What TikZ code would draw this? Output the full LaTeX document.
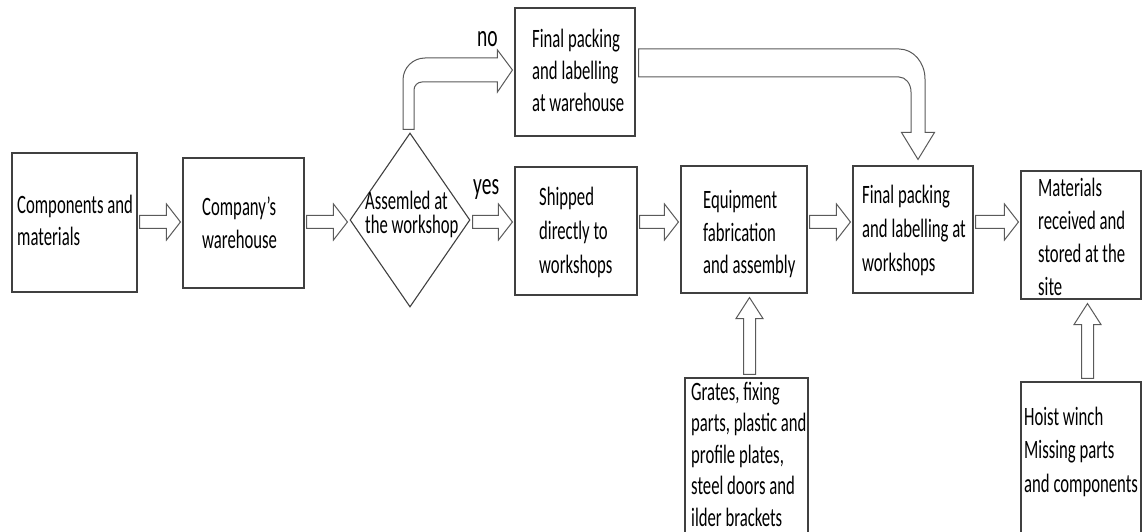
\documentclass[tikz,border=0pt]{standalone}
\usepackage{fontspec}
\setmainfont{Carlito}[FakeStretch=0.63]
\usetikzlibrary{shapes.geometric,calc}

\definecolor{edge}{RGB}{64,64,64}
\definecolor{arrowedge}{RGB}{90,90,90}

\tikzset{
  box/.style={draw=edge, line width=1.1pt, rectangle, inner sep=0pt},
  decision/.style={draw=edge, line width=1.1pt, diamond, inner sep=0pt},
  blockarrow/.style={draw=arrowedge, line width=1pt, fill=white, line join=miter},
  txt/.style={inner sep=0pt, anchor=base west, text width=150pt, align=flush left,
    font={\fontsize{26.5pt}{#1}\selectfont}},
  tag/.style={inner sep=0pt, anchor=base west, font={\fontsize{31pt}{36pt}\selectfont}},
}

% hollow arrow from #1 to #2, drawn along height #3
\newcommand\flowarrow[3]{%
  \draw[blockarrow] let \p1=(#1.east), \p2=(#2.west) in
    (\x1+2pt,#3pt+6.5pt) -- (\x2-16pt,#3pt+6.5pt) -- (\x2-16pt,#3pt+18pt) -- (\x2-2pt,#3pt)
    -- (\x2-16pt,#3pt-18pt) -- (\x2-16pt,#3pt-6.5pt) -- (\x1+2pt,#3pt-6.5pt) -- cycle;}

% hollow arrow pointing up from #1 into #2, at abscissa #3
\newcommand\feedarrow[3]{%
  \draw[blockarrow] let \p1=(#1.north), \p2=(#2.south) in
    (#3pt-6pt,\y1+3pt) -- (#3pt-6pt,\y2-25pt) -- (#3pt-13.5pt,\y2-25pt) -- (#3pt,\y2-4pt)
    -- (#3pt+13.5pt,\y2-25pt) -- (#3pt+6pt,\y2-25pt) -- (#3pt+6pt,\y1+3pt) -- cycle;}

\begin{document}
\begin{tikzpicture}[x=1pt,y=1pt]
\useasboundingbox (0,0) rectangle (1144,531);
\clip (0,0) rectangle (1144,531);

% process boxes
\node[box, minimum width=125pt, minimum height=139pt] (comp)  at (74.5,308.5) {};
\node[box, minimum width=121pt, minimum height=130pt] (wh)    at (243.5,308) {};
\node[decision, minimum width=120pt, minimum height=174pt] (dec) at (410,311) {};
\node[box, minimum width=120pt, minimum height=128pt] (packw) at (575,459) {};
\node[box, minimum width=122pt, minimum height=128pt] (ship)  at (576,300) {};
\node[box, minimum width=126pt, minimum height=127pt] (fab)   at (744,301.5) {};
\node[box, minimum width=120pt, minimum height=127pt] (packs) at (913,301.5) {};
\node[box, minimum width=120pt, minimum height=128pt] (site)  at (1081,296) {};
\node[box, minimum width=123pt, minimum height=163pt] (parts) at (746.5,71.5) {};
\node[box, minimum width=120pt, minimum height=159pt] (hoist) at (1081,69.5) {};

% box texts (placed at the baseline of their first line)
\node[txt=32pt]   (tcomp)  at (17,317)   {Components and\\materials};
\node[txt=33pt]   (twh)    at (202,315)  {Company’s\\warehouse};
\node[txt=24pt]   (tdec)   at (365,321)  {Assemled at\\the workshop};
\node[txt=32pt]   (tpackw) at (532,483)  {Final packing\\and labelling\\at warehouse};
\node[txt=34pt]   (tship)  at (539,325)  {Shipped\\directly to\\workshops};
\node[txt=32.5pt] (tfab)   at (703,322)  {Equipment\\fabrication\\and assembly};
\node[txt=34pt]   (tpacks) at (862,327)  {Final packing\\and labelling at\\workshops};
\node[txt=33pt]   (tsite)  at (1038,334) {Materials\\received and\\stored at the\\site};
\node[txt=31.5pt] (tparts) at (691,131)  {Grates, fixing\\parts, plastic and\\profile plates,\\steel doors and\\ilder brackets};
\node[txt=33.5pt] (thoist) at (1024,106) {Hoist winch\\Missing parts\\and components};

% branch labels
\node[tag] (yes) at (473,336) {yes};
\node[tag] (no)  at (477,484) {no};

% main flow
\flowarrow{comp}{wh}{309}
\flowarrow{wh}{dec}{309}
\flowarrow{dec}{ship}{309}
\flowarrow{ship}{fab}{309}
\flowarrow{fab}{packs}{309}
\flowarrow{packs}{site}{309}

% inputs from below
\feedarrow{parts}{fab}{749.5}
\feedarrow{hoist}{site}{1087.5}

% "no" branch: up from the decision, then right to the warehouse packing
\draw[blockarrow] let \p1=(dec.north), \p2=(packw.west) in
  (\x1-7pt,\y1+3pt) -- (\x1-7pt,\y2-8pt) arc[start angle=180,end angle=90,radius=22pt]
  -- (\x2-17pt,\y2+14pt) -- (\x2-17pt,\y2+22pt) -- (\x2-2pt,\y2+2pt) -- (\x2-17pt,\y2-20pt)
  -- (\x2-17pt,\y2-10pt) -- (\x1+12pt,\y2-10pt) arc[start angle=90,end angle=180,radius=8pt]
  -- (\x1+4pt,\y1+3pt) -- cycle;

% from warehouse packing over to the workshop packing
\draw[blockarrow] let \p1=(packw.east), \p2=(packs.north) in
  (\x1+3pt,\y1+23pt) -- (\x2-14pt,\y1+23pt) arc[start angle=90,end angle=0,x radius=26pt,y radius=30pt]
  -- (\x2+12pt,\y2+33pt) -- (\x2+21.5pt,\y2+33pt) -- (\x2+5pt,\y2+6pt) -- (\x2-11.5pt,\y2+33pt)
  -- (\x2-2pt,\y2+33pt) -- (\x2-2pt,\y1-20pt) arc[start angle=0,end angle=90,x radius=12pt,y radius=15pt]
  -- (\x1+3pt,\y1-5pt) -- cycle;
\end{tikzpicture}
\end{document}
